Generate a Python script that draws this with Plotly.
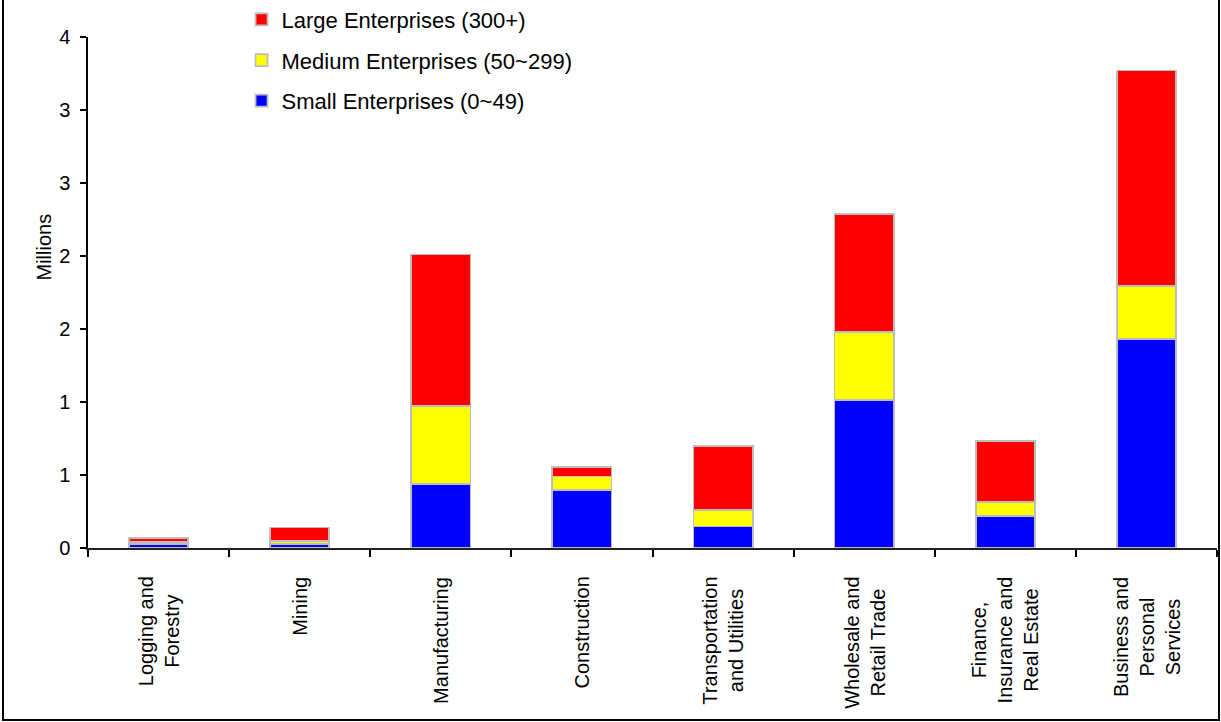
import plotly.graph_objects as go

# Employment by industry and enterprise size (millions)
categories = [
    "Logging and<br>Forestry",
    "Mining",
    "Manufacturing",
    "Construction",
    "Transportation<br>and Utilities",
    "Wholesale and<br>Retail Trade",
    "Finance,<br>Insurance and<br>Real Estate",
    "Business and<br>Personal<br>Services",
]
small = [0.030, 0.030, 0.440, 0.400, 0.147, 1.015, 0.218, 1.432]
medium = [0.010, 0.018, 0.530, 0.090, 0.112, 0.465, 0.098, 0.365]
large = [0.026, 0.092, 1.040, 0.066, 0.438, 0.805, 0.415, 1.473]

series_names = [
    "Small Enterprises (0~49)",
    "Medium Enterprises (50~299)",
    "Large Enterprises (300+)",
]
series_colors = ["#0000FF", "#FFFF00", "#FF0000"]
legend_ranks = [3, 2, 1]

y_tickvals = [0, 0.5, 1.0, 1.5, 2.0, 2.5, 3.0, 3.5]
y_ticktext = ["0", "1", "1", "2", "2", "3", "3", "4"]

FONT = "Liberation Sans, Arial, sans-serif"

fig = go.Figure()
for name, vals, color, rank in zip(series_names, [small, medium, large],
                                   series_colors, legend_ranks):
    fig.add_trace(go.Bar(
        x=categories,
        y=vals,
        name=name,
        legendgroup=name,
        legendrank=rank,
        marker=dict(color=color, line=dict(color="#BDBDBD", width=1.8)),
    ))

# category labels, rotated and centred line by line
for cat in categories:
    fig.add_annotation(
        x=cat, xref="x", y=-0.052, yref="paper",
        text=cat, textangle=-90, showarrow=False,
        xanchor="center", yanchor="top", align="center",
        font=dict(family=FONT, size=20, color="black"),
    )

# y-axis title
fig.add_annotation(
    x=-0.039, xref="paper", y=0.59, yref="paper",
    text="Millions", textangle=-90, showarrow=False,
    xanchor="center", yanchor="middle",
    font=dict(family=FONT, size=20, color="black"),
)

# frame around the whole chart
fig.add_shape(
    type="rect", xref="paper", yref="paper",
    x0=(3 - 88) / 1129, x1=(1219 - 88) / 1129,
    y0=(548 - 720) / 511, y1=(548 + 2) / 511 + 0.01,
    line=dict(color="black", width=2), fillcolor="rgba(0,0,0,0)",
    layer="below",
)

fig.update_layout(
    width=1221, height=722,
    barmode="stack", bargap=0.58,
    plot_bgcolor="white", paper_bgcolor="white",
    margin=dict(l=88, r=4, t=37, b=174, autoexpand=False),
    font=dict(family=FONT, size=20, color="black"),
    showlegend=True,
    legend=dict(
        x=0.136, y=1.075, xanchor="left", yanchor="top",
        traceorder="grouped", tracegroupgap=9,
        bgcolor="rgba(0,0,0,0)", font=dict(family=FONT, size=22, color="black"),
    ),
    xaxis=dict(
        type="category", tickson="boundaries",
        showticklabels=False, ticks="outside", ticklen=7, tickcolor="black",
        tickwidth=1.5, showline=True, linecolor="#222222", linewidth=2,
        showgrid=False, zeroline=False,
    ),
    yaxis=dict(
        range=[0, 3.5], tickvals=y_tickvals, ticktext=y_ticktext,
        ticks="outside", ticklen=6, tickcolor="black", tickwidth=1.5,
        ticklabelstandoff=6,
        showline=True, linecolor="black", linewidth=1.5,
        showgrid=False, zeroline=False,
        tickfont=dict(family=FONT, size=20, color="black"),
    ),
)

fig.write_html("out.html")
